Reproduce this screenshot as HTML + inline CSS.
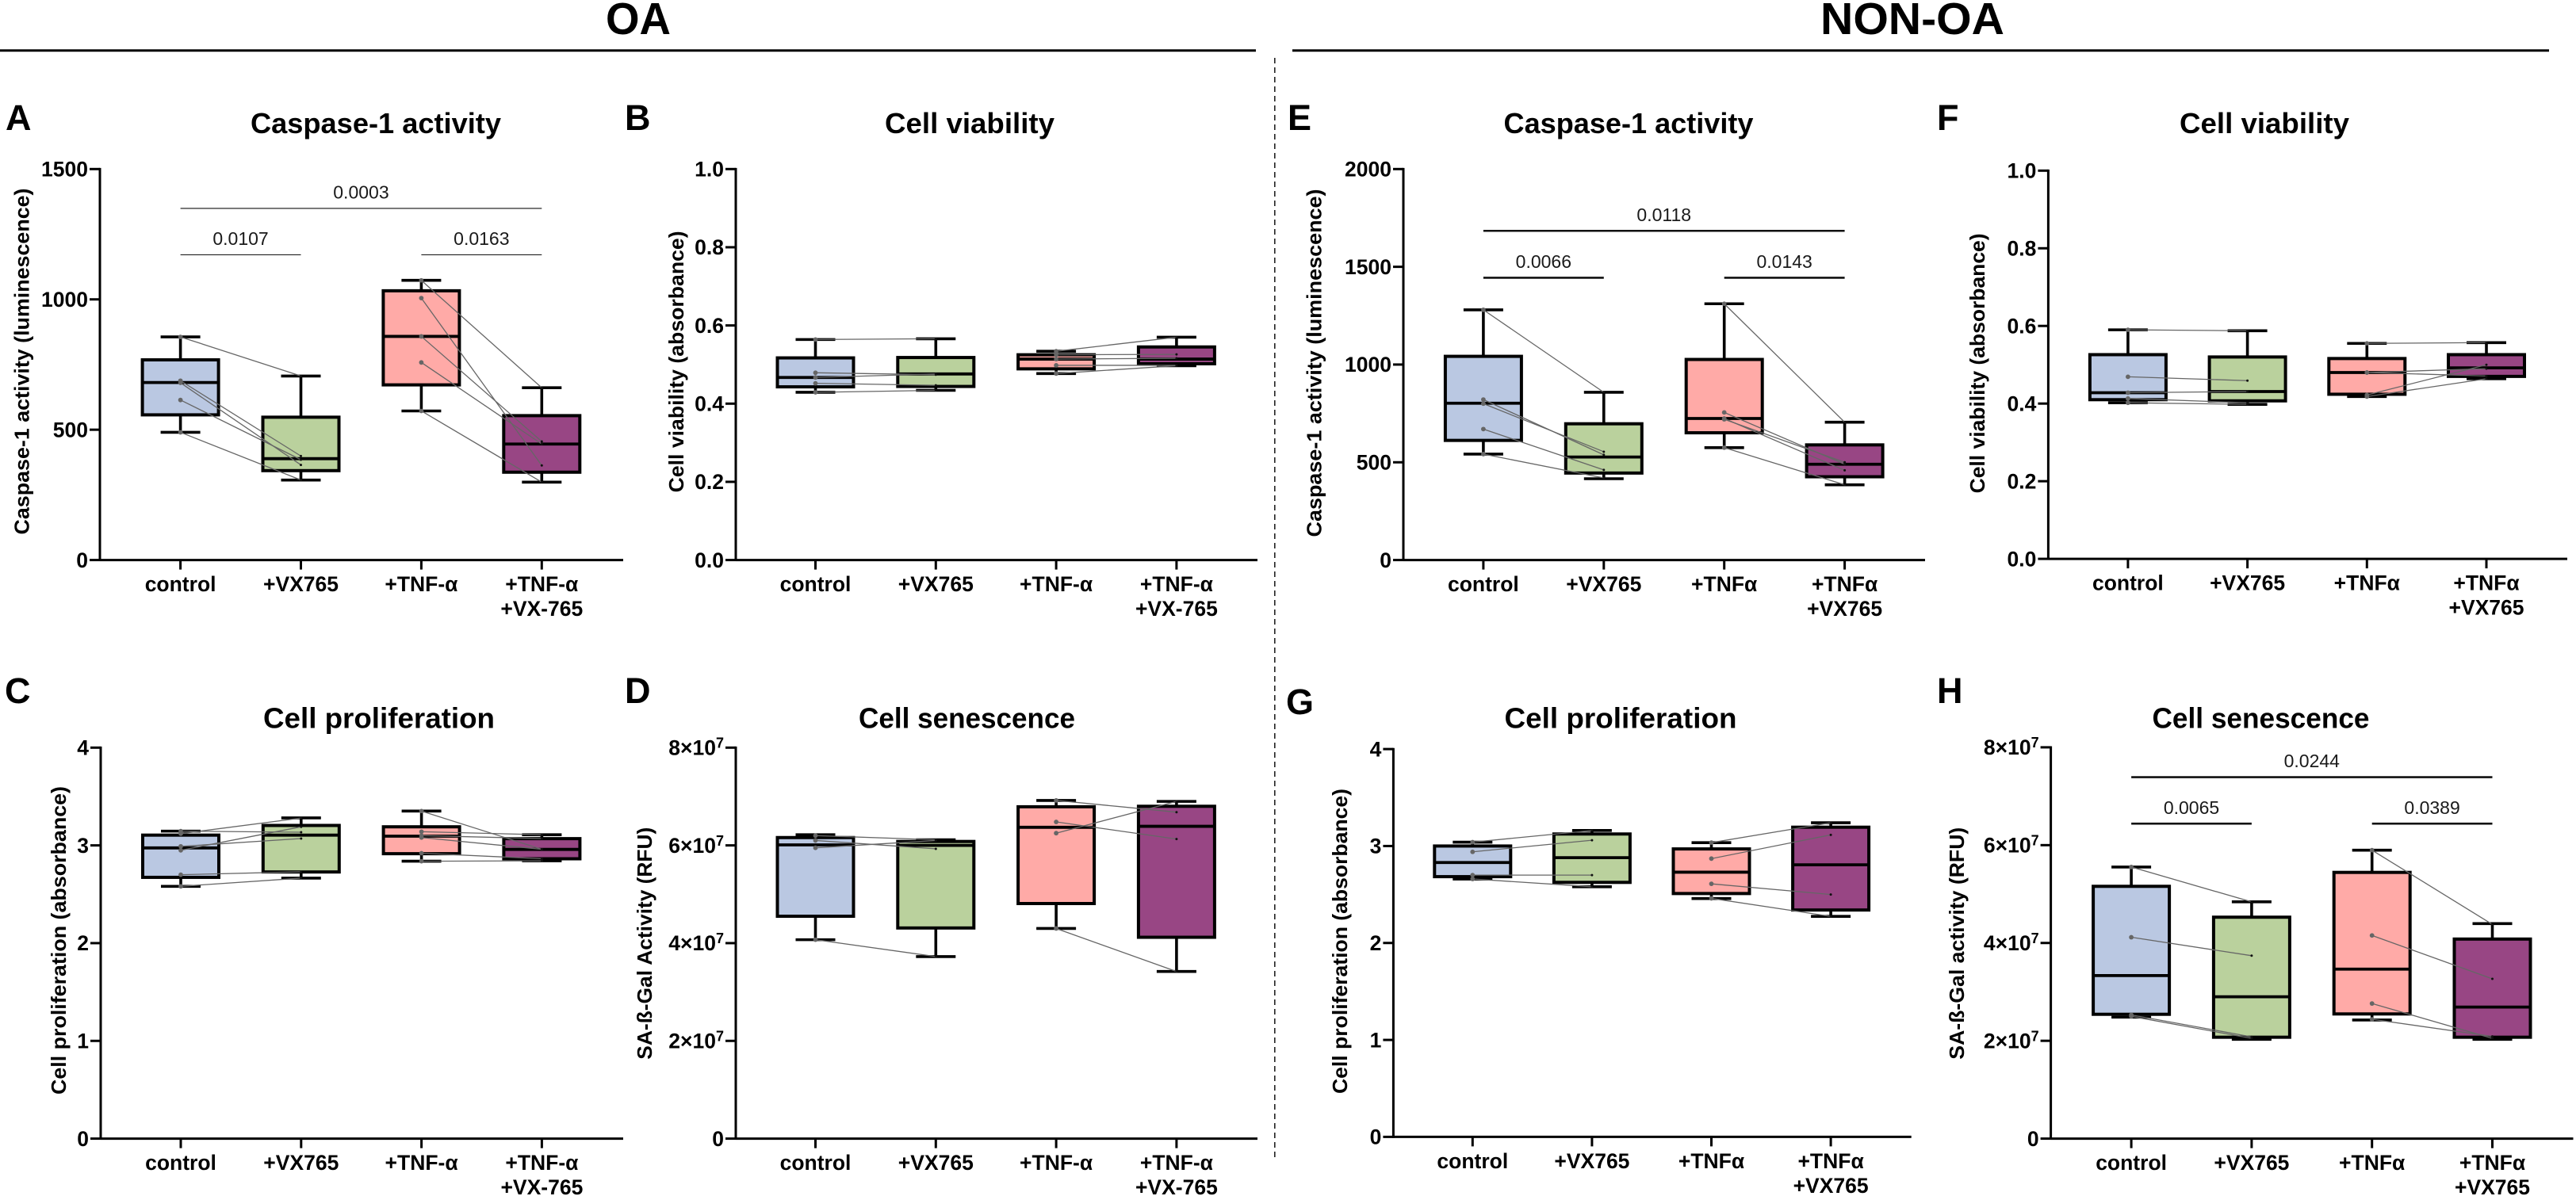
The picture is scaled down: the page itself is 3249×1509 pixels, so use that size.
<!DOCTYPE html>
<html lang="en">
<head>
<meta charset="utf-8">
<title>Caspase-1, viability, proliferation and senescence box plots</title>
<style>
html,body{margin:0;padding:0;background:#fff;}
svg{display:block;font-family:"Liberation Sans",sans-serif;}
.head{font-weight:700;font-size:57px;fill:#000;}
.letter{font-weight:700;font-size:45px;fill:#000;}
.title{font-weight:700;font-size:36px;fill:#000;}
.ytitle{font-weight:700;font-size:26px;fill:#000;}
.tick{font-weight:700;font-size:26.5px;fill:#000;}
.sig{font-size:23px;fill:#1a1a1a;}
</style>
</head>
<body>
<svg id="figure" xmlns="http://www.w3.org/2000/svg" width="3249" height="1509" viewBox="0 0 3249 1509">
<rect x="0" y="0" width="3249" height="1509" fill="#fff"/>

<text class="head" x="764" y="43" textLength="82" lengthAdjust="spacingAndGlyphs">OA</text>
<text class="head" x="2296" y="43" textLength="232" lengthAdjust="spacingAndGlyphs">NON-OA</text>
<line x1="0" y1="63.8" x2="1584" y2="63.8" stroke="#000" stroke-width="3"/>
<line x1="1630" y1="63.8" x2="3215" y2="63.8" stroke="#000" stroke-width="3"/>
<line x1="1607.8" y1="73" x2="1607.8" y2="1461" stroke="#222" stroke-width="1.6" stroke-dasharray="7 5"/>

<text class="letter" x="7" y="164">A</text>
<text class="letter" x="788" y="164">B</text>
<text class="letter" x="6" y="887">C</text>
<text class="letter" x="788" y="887">D</text>
<text class="letter" x="1624" y="164">E</text>
<text class="letter" x="2443" y="164">F</text>
<text class="letter" x="1622" y="901">G</text>
<text class="letter" x="2443" y="887">H</text>

<text class="title" x="316" y="168" textLength="316" lengthAdjust="spacingAndGlyphs">Caspase-1 activity</text>
<text class="title" x="1116" y="168" textLength="214" lengthAdjust="spacingAndGlyphs">Cell viability</text>
<text class="title" x="332" y="918.5" textLength="292" lengthAdjust="spacingAndGlyphs">Cell proliferation</text>
<text class="title" x="1083" y="918.5" textLength="273" lengthAdjust="spacingAndGlyphs">Cell senescence</text>
<text class="title" x="1896.5" y="168" textLength="315" lengthAdjust="spacingAndGlyphs">Caspase-1 activity</text>
<text class="title" x="2749" y="168" textLength="214" lengthAdjust="spacingAndGlyphs">Cell viability</text>
<text class="title" x="1897.5" y="918.5" textLength="293" lengthAdjust="spacingAndGlyphs">Cell proliferation</text>
<text class="title" x="2714.5" y="918.5" textLength="274" lengthAdjust="spacingAndGlyphs">Cell senescence</text>

<text class="ytitle" transform="translate(36.7,674.5) rotate(-90)" textLength="437" lengthAdjust="spacingAndGlyphs">Caspase-1 activity (luminescence)</text>
<text class="ytitle" transform="translate(862,621.4) rotate(-90)" textLength="330" lengthAdjust="spacingAndGlyphs">Cell viability (absorbance)</text>
<text class="ytitle" transform="translate(83,1381) rotate(-90)" textLength="389" lengthAdjust="spacingAndGlyphs">Cell proliferation (absorbance)</text>
<text class="ytitle" transform="translate(822,1336.7) rotate(-90)" textLength="293" lengthAdjust="spacingAndGlyphs">SA-ß-Gal Activity (RFU)</text>
<text class="ytitle" transform="translate(1666.4,677.5) rotate(-90)" textLength="439" lengthAdjust="spacingAndGlyphs">Caspase-1 activity (luminescence)</text>
<text class="ytitle" transform="translate(2503,622.4) rotate(-90)" textLength="328" lengthAdjust="spacingAndGlyphs">Cell viability (absorbance)</text>
<text class="ytitle" transform="translate(1698.8,1380) rotate(-90)" textLength="385" lengthAdjust="spacingAndGlyphs">Cell proliferation (absorbance)</text>
<text class="ytitle" transform="translate(2477,1336.7) rotate(-90)" textLength="293" lengthAdjust="spacingAndGlyphs">SA-ß-Gal activity (RFU)</text>

<g id="panel-a"></g>
<g id="panel-b"></g>
<g id="panel-c"></g>
<g id="panel-d"></g>
<g id="panel-e"></g>
<g id="panel-f"></g>
<g id="panel-g"></g>
<g id="panel-h"></g>
</svg>

<script>
/* ---------- categories ---------- */
const categoriesOA = ["control", "+VX765", "+TNF-α", "+TNF-α|+VX-765"];
const categoriesNonOA = ["control", "+VX765", "+TNFα", "+TNFα|+VX765"];

/* ---------- panel A ---------- */
const aTicks = [0, 500, 1000, 1500];
const aTickLabels = ["0", "500", "1000", "1500"];
const aHigh = [856, 706, 1073, 661];
const aQ3 = [768, 548, 1033, 554];
const aMedian = [681, 389, 858, 445];
const aQ1 = [557, 343, 672, 337];
const aLow = [490, 307, 572, 299];
const aPaired = [
  [856, 688, 680, 614, 490],
  [706, 399, 365, 385, 307],
  [1073, 1005, 858, 758, 572],
  [661, 363, 455, 445, 299]
];
const aBracketFrom = [0, 0, 2];
const aBracketTo = [3, 1, 3];
const aBracketLevel = [1349, 1171, 1171];
const aBracketLabels = ["0.0003", "0.0107", "0.0163"];

/* ---------- panel B ---------- */
const bTicks = [0, 0.2, 0.4, 0.6, 0.8, 1];
const bTickLabels = ["0.0", "0.2", "0.4", "0.6", "0.8", "1.0"];
const bHigh = [0.564, 0.566, 0.534, 0.570];
const bQ3 = [0.517, 0.518, 0.525, 0.545];
const bMedian = [0.467, 0.476, 0.514, 0.514];
const bQ1 = [0.443, 0.444, 0.489, 0.502];
const bLow = [0.429, 0.434, 0.477, 0.497];
const bPaired = [
  [0.564, 0.479, 0.467, 0.452, 0.429],
  [0.566, 0.474, 0.476, 0.447, 0.434],
  [0.534, 0.525, 0.514, 0.498, 0.477],
  [0.570, 0.526, 0.516, 0.498, 0.497]
];

/* ---------- panel C ---------- */
const cTicks = [0, 1, 2, 3, 4];
const cTickLabels = ["0", "1", "2", "3", "4"];
const cHigh = [3.146, 3.281, 3.351, 3.109];
const cQ3 = [3.105, 3.204, 3.19, 3.069];
const cMedian = [2.974, 3.105, 3.094, 2.959];
const cQ1 = [2.673, 2.728, 2.915, 2.863];
const cLow = [2.581, 2.665, 2.838, 2.842];
const cPaired = [
  [3.12, 3.146, 2.95, 2.99, 2.70, 2.581],
  [3.28, 3.135, 3.19, 3.07, 2.73, 2.665],
  [3.351, 3.14, 3.10, 3.08, 2.92, 2.838],
  [2.96, 3.109, 3.07, 2.96, 2.863, 2.842]
];

/* ---------- panel D ---------- */
const dTicks = [0, 2e7, 4e7, 6e7, 8e7];
const dTickLabels = ["0", "2×10^7", "4×10^7", "6×10^7", "8×10^7"];
const dHigh = [6.218e7, 6.115e7, 6.92e7, 6.90e7];
const dQ3 = [6.16e7, 6.08e7, 6.79e7, 6.80e7];
const dMedian = [6.01e7, 6.0e7, 6.37e7, 6.39e7];
const dQ1 = [4.55e7, 4.31e7, 4.81e7, 4.12e7];
const dLow = [4.07e7, 3.725e7, 4.30e7, 3.42e7];
const dPaired = [
  [6.2e7, 6.1e7, 5.95e7, 4.07e7],
  [6.115e7, 5.93e7, 6.1e7, 3.725e7],
  [6.92e7, 6.48e7, 6.25e7, 4.30e7],
  [6.68e7, 6.13e7, 6.90e7, 3.42e7]
];

/* ---------- panel E ---------- */
const eTicks = [0, 500, 1000, 1500, 2000];
const eTickLabels = ["0", "500", "1000", "1500", "2000"];
const eHigh = [1280, 858, 1311, 705];
const eQ3 = [1042, 697, 1026, 589];
const eMedian = [802, 527, 724, 490];
const eQ1 = [612, 445, 651, 426];
const eLow = [542, 416, 575, 385];
const ePaired = [
  [1280, 821, 800, 670, 542],
  [858, 538, 554, 461, 420],
  [1311, 755, 724, 720, 575],
  [705, 490, 459, 500, 385]
];
const eBracketFrom = [0, 0, 2];
const eBracketTo = [3, 1, 3];
const eBracketLevel = [1684, 1444, 1444];
const eBracketLabels = ["0.0118", "0.0066", "0.0143"];

/* ---------- panel F ---------- */
const fTicks = [0, 0.2, 0.4, 0.6, 0.8, 1];
const fTickLabels = ["0.0", "0.2", "0.4", "0.6", "0.8", "1.0"];
const fHigh = [0.590, 0.5875, 0.555, 0.557];
const fQ3 = [0.526, 0.520, 0.516, 0.526];
const fMedian = [0.428, 0.431, 0.480, 0.492];
const fQ1 = [0.410, 0.407, 0.424, 0.470];
const fLow = [0.402, 0.398, 0.418, 0.464];
const fPaired = [
  [0.590, 0.469, 0.428, 0.413, 0.402],
  [0.5875, 0.459, 0.431, 0.402, 0.398],
  [0.555, 0.480, 0.480, 0.422, 0.418],
  [0.557, 0.490, 0.471, 0.500, 0.464]
];

/* ---------- panel G ---------- */
const gTicks = [0, 1, 2, 3, 4];
const gTickLabels = ["0", "1", "2", "3", "4"];
const gHigh = [3.04, 3.16, 3.035, 3.24];
const gQ3 = [3.00, 3.124, 2.97, 3.194];
const gMedian = [2.83, 2.88, 2.73, 2.806];
const gQ1 = [2.684, 2.625, 2.51, 2.34];
const gLow = [2.66, 2.58, 2.458, 2.274];
const gPaired = [
  [3.04, 2.94, 2.70, 2.66],
  [3.16, 3.06, 2.70, 2.58],
  [3.035, 2.87, 2.61, 2.46],
  [3.24, 3.115, 2.50, 2.274]
];

/* ---------- panel H ---------- */
const hTicks = [0, 2e7, 4e7, 6e7, 8e7];
const hTickLabels = ["0", "2×10^7", "4×10^7", "6×10^7", "8×10^7"];
const hHigh = [5.553e7, 4.842e7, 5.897e7, 4.396e7];
const hQ3 = [5.158e7, 4.527e7, 5.443e7, 4.08e7];
const hMedian = [3.333e7, 2.90e7, 3.465e7, 2.689e7];
const hQ1 = [2.542e7, 2.073e7, 2.549e7, 2.073e7];
const hLow = [2.483e7, 2.03e7, 2.425e7, 2.03e7];
const hPaired = [
  [5.553e7, 4.117e7, 2.53e7, 2.50e7],
  [4.84e7, 3.74e7, 2.08e7, 2.05e7],
  [5.897e7, 4.154e7, 2.762e7, 2.44e7],
  [4.38e7, 3.267e7, 2.05e7, 2.09e7]
];
const hBracketFrom = [0, 0, 2];
const hBracketTo = [3, 1, 3];
const hBracketLevel = [7.39e7, 6.44e7, 6.44e7];
const hBracketLabels = ["0.0244", "0.0065", "0.0389"];

/* ---------- styling ---------- */
const boxFills = ["#BAC8E2", "#BAD19D", "#FFAAA7", "#984684"];
const SVGNS = "http://www.w3.org/2000/svg";

function mk(parent, tag, attrs) {
  const el = document.createElementNS(SVGNS, tag);
  for (const k in attrs) el.setAttribute(k, attrs[k]);
  parent.appendChild(el);
  return el;
}

function drawPanel(id, frame, cats, ticks, tickLabels, high, q3, median, q1, low, paired, bracket) {
  const g = document.getElementById(id);
  const maxV = ticks[ticks.length - 1];
  const yOf = v => frame.y0 - (v / maxV) * (frame.y0 - frame.top);
  const xOf = i => frame.x0 + i * frame.step;

  /* axes */
  const yAxis = mk(g, "line", {x1: frame.ax, y1: frame.top - 1.4, x2: frame.ax, y2: frame.y0 + 1.4, stroke: "#000", "stroke-width": 3});
  
  
  const xAxis = mk(g, "line", {x1: frame.ax, y1: frame.y0, x2: frame.end, y2: frame.y0, stroke: "#000", "stroke-width": 3});
  
  

  /* y ticks */
  ticks.forEach((t, i) => {
    const y = yOf(t);
    const mark = mk(g, "line", {x1: frame.ax - 13, y1: y, x2: frame.ax, y2: y, stroke: "#000", "stroke-width": 3});
    
    
    const label = mk(g, "text", {class: "tick", x: frame.ax - 15, y: y + 9.2, "text-anchor": "end"});
    
    
    const parts = tickLabels[i].split("^");
    label.appendChild(document.createTextNode(parts[0]));
    if (parts[1]) {
      const sup = mk(label, "tspan", {dy: -9, "font-size": 18});
      sup.textContent = parts[1];
    }
  });

  /* x ticks and category labels */
  cats.forEach((c, i) => {
    const x = xOf(i);
    const mark = mk(g, "line", {x1: x, y1: frame.y0, x2: x, y2: frame.y0 + 12, stroke: "#000", "stroke-width": 3});
    
    
    c.split("|").forEach((line, n) => {
      const label = mk(g, "text", {class: "tick", x: x, y: frame.y0 + 39.6 + n * 31, "text-anchor": "middle"});
      
      
      label.textContent = line;
    });
  });

  /* box plots */
  cats.forEach((c, i) => {
    const x = xOf(i);
    const whisker = mk(g, "line", {x1: x, y1: yOf(high[i]), x2: x, y2: yOf(low[i]), stroke: "#000", "stroke-width": 3.6});
    
    
    [high[i], low[i]].forEach(v => {
      const cap = mk(g, "line", {x1: x - 25, y1: yOf(v), x2: x + 25, y2: yOf(v), stroke: "#000", "stroke-width": 3.6});
      
      
    });
    const box = mk(g, "rect", {x: x - 48, y: yOf(q3[i]), width: 96, height: yOf(q1[i]) - yOf(q3[i]), fill: boxFills[i], stroke: "#000", "stroke-width": 4});
    
    
    const med = mk(g, "line", {x1: x - 48, y1: yOf(median[i]), x2: x + 48, y2: yOf(median[i]), stroke: "#000", "stroke-width": 3.8});
    
    
  });

  /* paired donor lines: control to +VX and +TNF to +TNF+VX */
  [[0, 1], [2, 3]].forEach(pair => {
    const a = pair[0], b = pair[1];
    paired[a].forEach((v, k) => {
      const link = mk(g, "line", {x1: xOf(a), y1: yOf(v), x2: xOf(b), y2: yOf(paired[b][k]), stroke: "#666", "stroke-width": 1.3});
      
      
      const left = mk(g, "circle", {cx: xOf(a), cy: yOf(v), r: 2.9, fill: "#666"});
      
      
      const right = mk(g, "circle", {cx: xOf(b), cy: yOf(paired[b][k]), r: 1.5, fill: "#111"});
      
      
    });
  });

  /* significance brackets */
  if (bracket) {
    bracket.from.forEach((f, i) => {
      const y = yOf(bracket.level[i]);
      const bar = mk(g, "line", {x1: xOf(f), y1: y, x2: xOf(bracket.to[i]), y2: y, stroke: "#111", "stroke-width": bracket.width});
      
      
      const label = mk(g, "text", {class: "sig", x: (xOf(f) + xOf(bracket.to[i])) / 2, y: y - 12.4, "text-anchor": "middle"});
      
      
      label.textContent = bracket.labels[i];
    });
  }
}

drawPanel("panel-a", {ax: 126, end: 786, top: 213.3, y0: 706.6, x0: 227.6, step: 151.9},
  categoriesOA, aTicks, aTickLabels, aHigh, aQ3, aMedian, aQ1, aLow, aPaired,
  {from: aBracketFrom, to: aBracketTo, level: aBracketLevel, labels: aBracketLabels, width: 1.1});
drawPanel("panel-b", {ax: 928, end: 1586, top: 213.3, y0: 706.6, x0: 1028.5, step: 151.8},
  categoriesOA, bTicks, bTickLabels, bHigh, bQ3, bMedian, bQ1, bLow, bPaired, null);
drawPanel("panel-c", {ax: 127, end: 786, top: 943.3, y0: 1436.6, x0: 228, step: 151.8},
  categoriesOA, cTicks, cTickLabels, cHigh, cQ3, cMedian, cQ1, cLow, cPaired, null);
drawPanel("panel-d", {ax: 928, end: 1586, top: 943.3, y0: 1436.6, x0: 1028.5, step: 151.8},
  categoriesOA, dTicks, dTickLabels, dHigh, dQ3, dMedian, dQ1, dLow, dPaired, null);
drawPanel("panel-e", {ax: 1770, end: 2428, top: 213.3, y0: 706.6, x0: 1870.9, step: 151.9},
  categoriesNonOA, eTicks, eTickLabels, eHigh, eQ3, eMedian, eQ1, eLow, ePaired,
  {from: eBracketFrom, to: eBracketTo, level: eBracketLevel, labels: eBracketLabels, width: 2.6});
drawPanel("panel-f", {ax: 2583.4, end: 3238, top: 215.3, y0: 705.1, x0: 2683.9, step: 150.7},
  categoriesNonOA, fTicks, fTickLabels, fHigh, fQ3, fMedian, fQ1, fLow, fPaired, null);
drawPanel("panel-g", {ax: 1757.4, end: 2410.7, top: 945.1, y0: 1434.4, x0: 1857.3, step: 150.6},
  categoriesNonOA, gTicks, gTickLabels, gHigh, gQ3, gMedian, gQ1, gLow, gPaired, null);
drawPanel("panel-h", {ax: 2586.6, end: 3245.5, top: 942.9, y0: 1436.6, x0: 2688.1, step: 151.8},
  categoriesNonOA, hTicks, hTickLabels, hHigh, hQ3, hMedian, hQ1, hLow, hPaired,
  {from: hBracketFrom, to: hBracketTo, level: hBracketLevel, labels: hBracketLabels, width: 2.6});
</script>
</body>
</html>
